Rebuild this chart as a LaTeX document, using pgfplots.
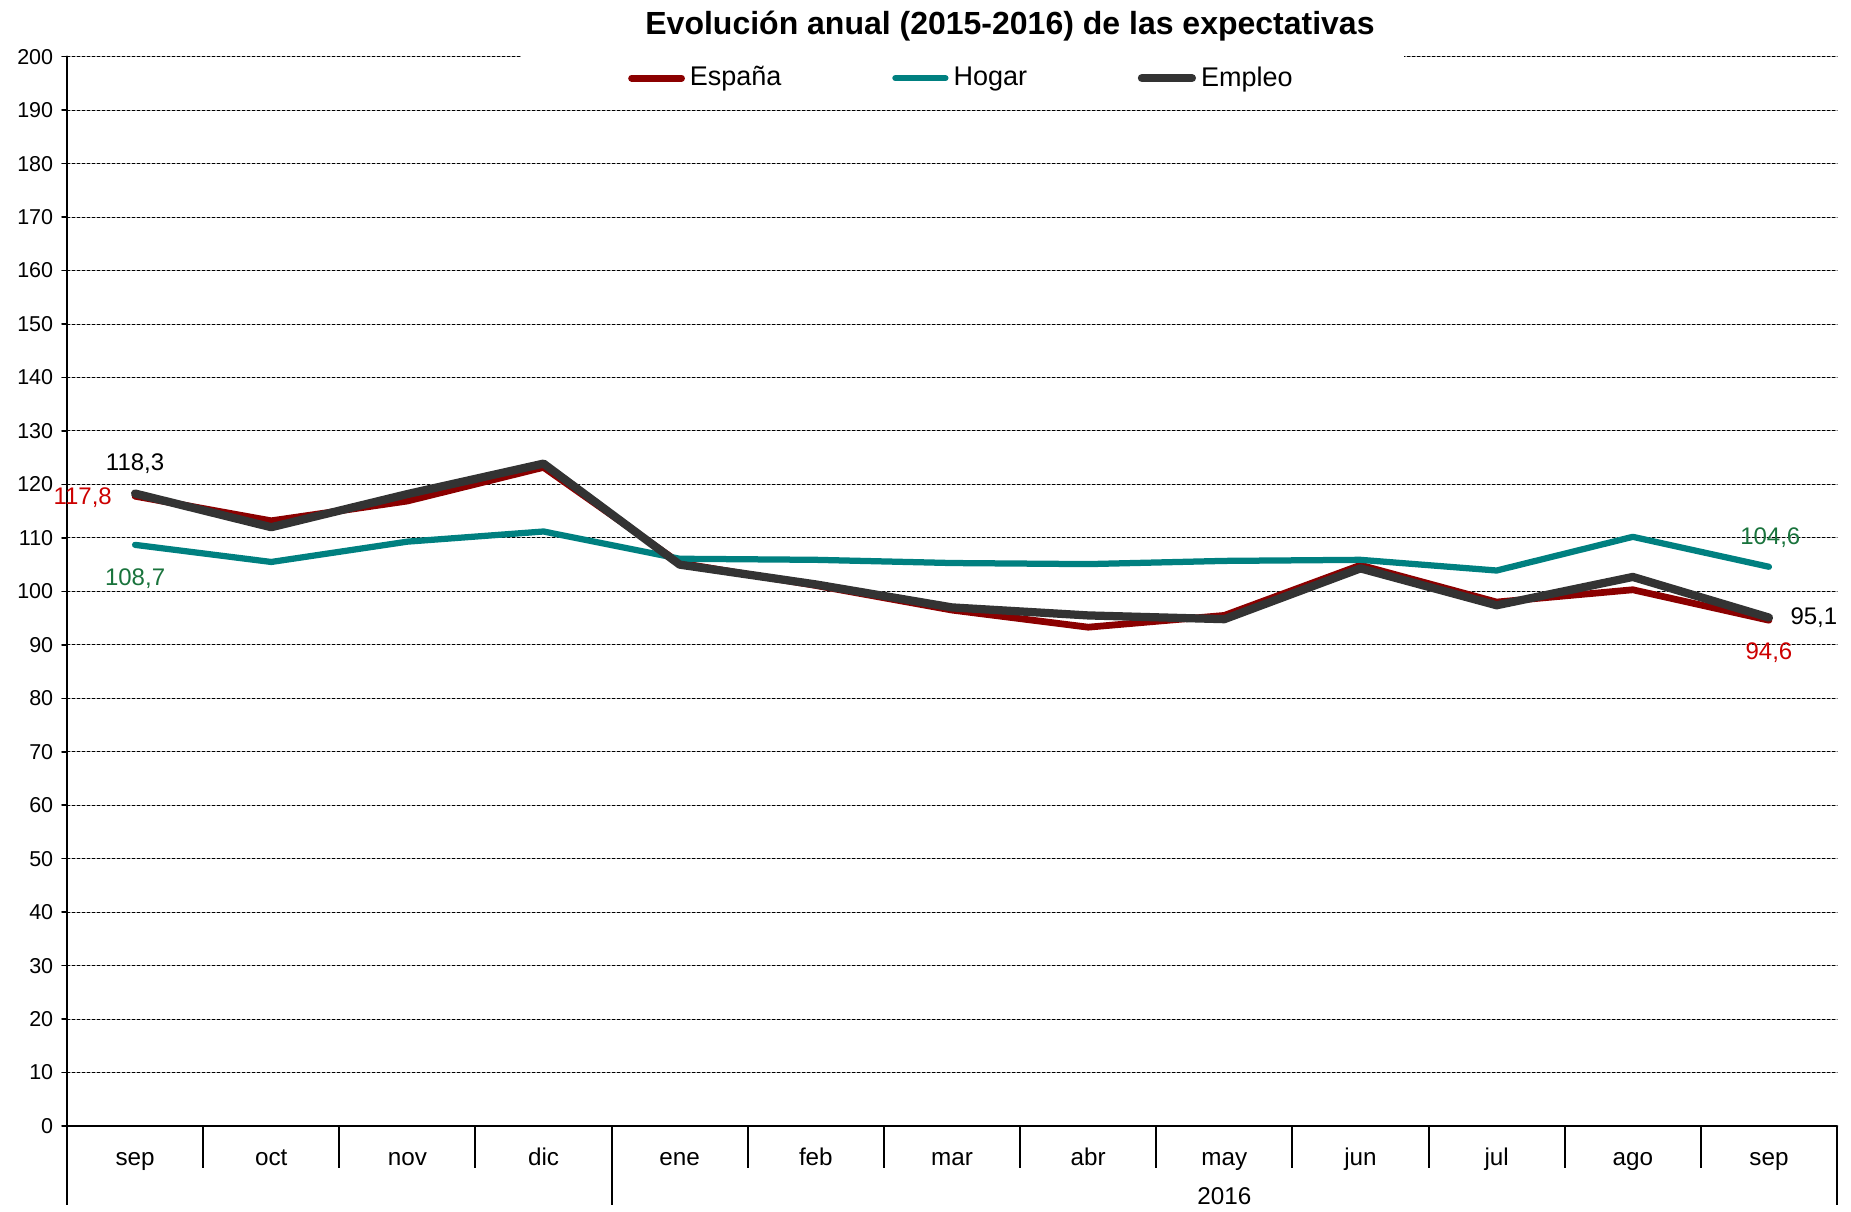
\documentclass[border=0pt]{standalone}
\usepackage{fontspec}
\setmainfont{Liberation Sans}
\usepackage{pgfplots}
\pgfplotsset{compat=1.18}
\definecolor{espana}{RGB}{139,0,0}
\definecolor{hogar}{RGB}{0,128,128}
\definecolor{empleo}{RGB}{51,51,51}
\definecolor{labred}{RGB}{204,0,0}
\definecolor{labgreen}{RGB}{25,115,60}
\pgfplotstableread{
x esp hog emp
0 117.8 108.7 118.3
1 113.2 105.5 112.0
2 116.9 109.3 118.2
3 123.2 111.2 123.9
4 105.3 106.1 105.0
5 101.1 105.9 101.3
6 96.5 105.3 97.0
7 93.3 105.1 95.5
8 95.5 105.7 94.8
9 104.9 105.9 104.3
10 98.0 103.9 97.4
11 100.3 110.2 102.7
12 94.6 104.6 95.1
}\datatable
\begin{document}
\begin{tikzpicture}
\begin{axis}[
  scale only axis, width=708pt, height=427.7pt,
  xmin=-0.5, xmax=12.5, ymin=0, ymax=200,
  clip=false,
  axis x line=bottom, axis y line=left,
  axis line style={-, line width=1.1pt, black},
  xtick={0,...,12},
  xticklabels={sep,oct,nov,dic,ene,feb,mar,abr,may,jun,jul,ago,sep},
  major x tick style={draw=none},
  x tick label style={font=\fontsize{9.7}{11}\selectfont, anchor=center, text height=7pt, text depth=2pt, yshift=-11.4pt},
  ytick={0,10,...,200},
  y tick label style={font=\fontsize{8.6}{10}\selectfont},
  /pgf/number format/assume math mode=true,
  tick align=outside, major tick length=2pt,
  y tick style={line width=0.6pt, black},
  ymajorgrids,
  grid style={black, line width=0.4pt, dash pattern=on 1.2pt off 0.8pt},
  legend style={at={(axis cs:6.08,196.0)}, anchor=center, fill=white, draw=none,
    inner xsep=42.7pt, inner ysep=3pt, font=\fontsize{10.8}{12}\selectfont,
    legend columns=3,
    /tikz/column 2/.style={column sep=42.3pt},
    /tikz/column 4/.style={column sep=42.3pt}},
  legend image code/.code={\draw[#1, line cap=round] (0pt,0pt) -- (20pt,0pt);},
  line join=round, line cap=round,
]
\addplot[espana, line width=2.7pt] table[x=x, y=esp] {\datatable};
\addlegendentry{España}
\addplot[hogar, line width=2.5pt] table[x=x, y=hog] {\datatable};
\addlegendentry{Hogar}
\addplot[empleo, line width=3.3pt] table[x=x, y=emp] {\datatable};
\addlegendentry{Empleo}

\pgfplotsinvokeforeach{0.5,1.5,2.5,4.5,5.5,6.5,7.5,8.5,9.5,10.5,11.5}{
  \draw[line width=0.8pt, black, line cap=butt] (axis cs:#1,0) -- ++(0pt,-16.8pt);
}
\pgfplotsinvokeforeach{-0.5,3.5,12.5}{
  \draw[line width=0.8pt, black, line cap=butt] (axis cs:#1,0) -- ++(0pt,-31.6pt);
}
\node[font=\fontsize{9.7}{11}\selectfont] at (axis cs:8,0) [yshift=-28pt] {2016};

\node[font=\fontsize{12.8}{15}\selectfont\bfseries] at (axis cs:6.426,200) [yshift=12.4pt] {Evolución anual (2015-2016) de las expectativas};

\node[font=\fontsize{9.6}{11}\selectfont, text=black] at (axis cs:0,123.8) {118,3};
\node[font=\fontsize{9.6}{11}\selectfont, text=labred] at (axis cs:-0.385,117.6) {117,8};
\node[font=\fontsize{9.6}{11}\selectfont, text=labgreen] at (axis cs:0,102.4) {108,7};
\node[font=\fontsize{9.6}{11}\selectfont, text=labgreen] at (axis cs:12.01,110.1) {104,6};
\node[font=\fontsize{9.6}{11}\selectfont, text=black] at (axis cs:12.33,95.1) {95,1};
\node[font=\fontsize{9.6}{11}\selectfont, text=labred] at (axis cs:12.0,88.5) {94,6};
\end{axis}
\pgfresetboundingbox
\path (-26.8pt,-34pt) rectangle (713.6pt,450.4pt);
\end{tikzpicture}
\end{document}
